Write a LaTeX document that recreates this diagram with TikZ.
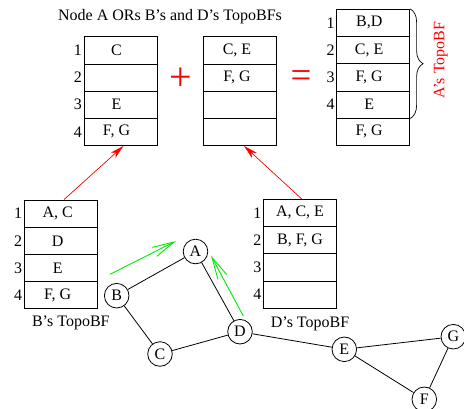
\documentclass[tikz,border=0pt]{standalone}
\usepackage{fontspec}
\setmainfont{Liberation Serif}
\usetikzlibrary{arrows.meta,calc,decorations.pathreplacing}
\definecolor{pureGreen}{RGB}{0,235,0}
\definecolor{pureRed}{RGB}{255,0,0}
\newcommand{\tb}{\fontsize{16}{19}\selectfont}
\tikzset{
  cell/.style={draw, line width=0.8pt, minimum width=73pt, minimum height=27.2pt, inner sep=0pt},
  ctext/.style={font=\tb, inner sep=0pt},
  num/.style={font=\tb, anchor=east, inner sep=0pt},
  vertex/.style={draw, circle, line width=0.8pt, minimum size=24.6pt, inner sep=0pt, font=\tb, fill=white},
  edge/.style={line width=0.8pt},
  orarrow/.style={pureRed, line width=0.7pt, -{Stealth[length=14pt,width=7pt,inset=4pt]}},
  sendarrow/.style={pureGreen, line width=0.9pt, -{Straight Barb[length=22pt,width=10pt]}},
  op/.style={pureRed, inner sep=0pt},
  caption/.style={font=\tb, inner sep=0pt}
}
\begin{document}
\begin{tikzpicture}[x=1pt, y=-1pt]
\useasboundingbox (0,0) rectangle (464,408);

% title
\node[caption] (title) at (170,17) {Node A ORs B’s and D’s TopoBFs};

% first operand table (B's contribution)
\foreach \r/\t in {1/C, 2/{}, 3/E, 4/{F, G}} {
  \node[cell] (p\r) at (120.5, {50.3+27.2*(\r-1)}) {};
  \node[ctext] at ($(p\r.center)+(-4,0)$) {\t};
  \node[num] (pn\r) at ($(p\r.west)+(-1.5,0)$) {\r};
}

% second operand table (D's contribution)
\foreach \r/\t in {1/{C, E}, 2/{F, G}, 3/{}, 4/{}} {
  \node[cell] (q\r) at (240, {50.3+27.2*(\r-1)}) {};
  \node[ctext] at ($(q\r.center)+(-3,0)$) {\t};
}

% result table
\foreach \r/\t in {1/{B,D}, 2/{C, E}, 3/{F, G}, 4/E, 5/{F, G}} {
  \node[cell] (s\r) at (373.2, {22.9+27.2*(\r-1)}) {};
  \node[ctext] at ($(s\r.center)+(-4,0)$) {\t};
}
\foreach \r in {1,...,4} {
  \node[num] (sn\r) at ($(s\r.west)+(-1.5,0)$) {\r};
}

% operators
\node[op, font=\fontsize{40}{40}\selectfont] (plus) at (181,79) {+};
\node[op, font=\fontsize{37}{37}\selectfont] (eq) at (301,79) {=};

% brace and label of the result
\draw[line width=0.7pt, decorate, decoration={brace, amplitude=13pt}] (s1.north east) -- (s4.south east);
\node[caption, pureRed, rotate=90] (alabel) at (440.7,60) {A’s TopoBF};

% B's table
\foreach \r/\t in {1/{A, C}, 2/D, 3/E, 4/{F, G}} {
  \node[cell] (b\r) at (60.7, {213.6+27.2*(\r-1)}) {};
  \node[ctext] at ($(b\r.center)+(-3,0)$) {\t};
  \node[num] (bn\r) at ($(b\r.west)+(-1.5,0)$) {\r};
}
\node[caption] (blabel) at (70.8,323) {B’s TopoBF};

% D's table
\foreach \r/\t in {1/{A, C, E}, 2/{B, F, G}, 3/{}, 4/{}} {
  \node[cell] (d\r) at (300, {212.9+27.2*(\r-1)}) {};
  \node[ctext] at (d\r.center) {\t};
  \node[num] (dn\r) at ($(d\r.west)+(-1.5,0)$) {\r};
}
\node[caption] (dlabel) at (310,324.3) {D’s TopoBF};

% red arrows: tables feeding the OR
\draw[orarrow] ($(b1.north)+(3.3,0)$) -- ($(p4.south)+(3,0)$);
\draw[orarrow] ($(d1.north)+(1.7,0)$) -- ($(q4.south)+(4,0)$);

% graph
\node[vertex] (A) at (195.5,251.5) {A};
\node[vertex] (B) at (116.7,295.7) {B};
\node[vertex] (C) at (160,354) {C};
\node[vertex] (D) at (240,331.7) {D};
\node[vertex] (E) at (344.3,349.3) {E};
\node[vertex] (G) at (453.3,336.7) {G};
\node[vertex] (F) at (424.3,399.3) {F};
\draw[edge] (A) -- (B);
\draw[edge] (B) -- (C);
\draw[edge] (C) -- (D);
\draw[edge] (D) -- (A);
\draw[edge] (D) -- (E);
\draw[edge] (E) -- (G);
\draw[edge] (E) -- (F);
\draw[edge] (F) -- (G);

% green arrows: neighbours sending their TopoBFs to A
\coordinate (bsend) at ($(B)+(-6.7,-21.4)$);
\coordinate (bto) at ($(A)+(-19.5,-10.5)$);
\coordinate (dsend) at ($(D)+(3.3,-15.7)$);
\coordinate (dto) at ($(A)+(15.5,4.2)$);
\draw[sendarrow] (bsend) -- (bto);
\draw[sendarrow] (dsend) -- (dto);
\end{tikzpicture}
\end{document}
